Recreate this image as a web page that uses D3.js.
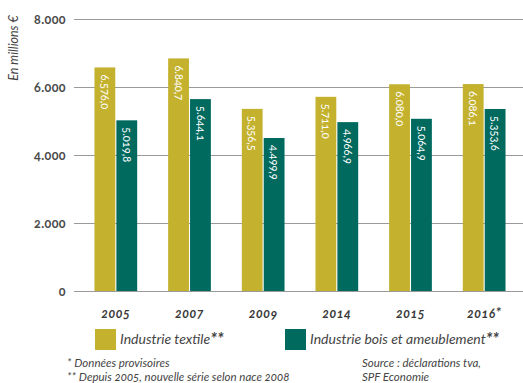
<!DOCTYPE html>
<html><head><meta charset="utf-8">
<script src="https://cdn.jsdelivr.net/npm/d3@7"></script>
<style>
body{margin:0;background:#fff;}
text{font-family:Lato,"Open Sans",sans-serif;}
</style></head>
<body><svg id="c" width="523" height="383"></svg>
<script>
const years = ["2005","2007","2009","2014","2015","2016"];
const yearMarks = ["","","","","","*"];
const textile = [6576.0, 6840.7, 5356.5, 5711.0, 6080.0, 6086.1];
const bois = [5019.8, 5644.1, 4499.9, 4966.9, 5064.9, 5353.6];
const seriesNames = ["Industrie textile","Industrie bois et ameublement"];
const seriesMarks = ["**","**"];
const seriesColors = ["#c4b22f","#006a5f"];
const yTicks = [0,2000,4000,6000,8000];

const svg = d3.select("#c");
const fmtTick = v => v===0 ? "0" : d3.format(",")(v).replace(/,/g,".");
const fmtVal = v => { const s = v.toFixed(1).split("."); return s[0].replace(/\B(?=(\d{3})+(?!\d))/g,".")+","+s[1]; };

const y = d3.scaleLinear().domain([0,8000]).range([291,19]);
const x0 = d3.scaleBand().domain(years).range([79,521]).paddingInner(0.42).paddingOuter(0.21);
const x1 = d3.scaleBand().domain([0,1]).range([0,x0.bandwidth()]).paddingInner(0.05);

// grid + ticks
const yAxis = d3.axisLeft(y).tickValues(yTicks).tickFormat(fmtTick).tickSize(-449).tickPadding(8);
const ga = svg.append("g").attr("transform","translate(74,0)").call(yAxis);
ga.select(".domain").remove();
ga.selectAll(".tick line").attr("stroke","#9a9a9a").attr("stroke-width",1);
ga.selectAll(".tick text").attr("fill","#4a4a4a").attr("font-size",12.5).attr("font-weight","bold")
  .attr("letter-spacing",0.4).style("font-variant-numeric","oldstyle-nums");

svg.append("text").attr("transform","translate(18,48) rotate(-90)").attr("text-anchor","middle")
  .attr("font-size",12.5).attr("font-style","italic").attr("fill","#444").text("En millions €");

const data = years.map((yr,i)=>({yr, vals:[textile[i], bois[i]]}));
const g = svg.append("g");
const grp = g.selectAll("g").data(data).join("g").attr("transform",d=>`translate(${x0(d.yr)},0)`);
grp.selectAll("rect").data(d=>d.vals.map((v,k)=>({v,k}))).join("rect")
  .attr("x",d=>x1(d.k)).attr("width",x1.bandwidth())
  .attr("y",d=>y(d.v)).attr("height",d=>y(0)-y(d.v)).attr("fill",d=>seriesColors[d.k]);
grp.selectAll("text.val").data(d=>d.vals.map((v,k)=>({v,k}))).join("text").attr("class","val")
  .attr("transform",d=>`translate(${x1(d.k)+x1.bandwidth()/2},${y(d.v)+7}) rotate(90)`)
  .attr("dy","0.35em").attr("fill","#fff").attr("font-size",11)
  .style("font-variant-numeric","oldstyle-nums").text(d=>fmtVal(d.v));

// x labels
const xl = svg.append("g").selectAll("text").data(years).join("text")
  .attr("x",d=>x0(d)+x0.bandwidth()/2).attr("y",318).attr("text-anchor","middle")
  .attr("font-size",12.5).attr("font-style","italic").attr("font-weight","bold").attr("fill","#3a3a3a")
  .attr("letter-spacing",0.5).style("font-variant-numeric","oldstyle-nums");
xl.append("tspan").text(d=>d);
xl.append("tspan").attr("dy",-1).attr("font-size",14).text((d,i)=>yearMarks[i]);

// legend
const legX = [95,285];
const lg = svg.append("g").selectAll("g").data(seriesNames).join("g")
  .attr("transform",(d,i)=>`translate(${legX[i]},329)`);
lg.append("rect").attr("width",21).attr("height",21).attr("fill",(d,i)=>seriesColors[i]);
const lt = lg.append("text").attr("x",25).attr("y",15).attr("font-size",14).attr("font-style","italic")
  .attr("fill","#444");
lt.append("tspan").text(d=>d);
lt.append("tspan").attr("font-weight","bold").attr("font-size",17).attr("dy",1).text((d,i)=>seriesMarks[i]);

// footnotes
const notes = [["* Données provisoires",67,367],["** Depuis 2005, nouvelle série selon nace 2008",67,381],
  ["Source : déclarations tva,",362,367],["SPF Economie",362,381]];
svg.append("g").selectAll("text").data(notes).join("text")
  .attr("x",d=>d[1]).attr("y",d=>d[2]).attr("font-size",11.5).attr("font-style","italic")
  .attr("fill","#444").style("font-variant-numeric","oldstyle-nums").text(d=>d[0]);
</script></body></html>
